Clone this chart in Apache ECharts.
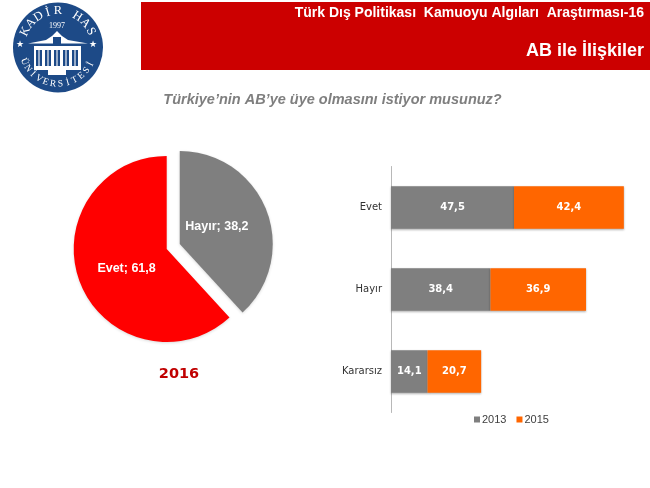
<!DOCTYPE html>
<html><head><meta charset="utf-8">
<style>html,body{margin:0;padding:0;background:#fff}#c{width:650px;height:488px}</style>
<script src="https://cdn.jsdelivr.net/npm/echarts@6/dist/echarts.min.js"></script>
</head><body><div id="c"></div>
<script>
const pieNames = ['Hayır','Evet'];
const pieValues = [38.2,61.8];
const pieColors = ['#7f7f7f','#ff0000'];
const categories = ['Evet','Hayır','Kararsız'];
const values2013 = [47.5,38.4,14.1];
const values2015 = [42.4,36.9,20.7];
const headerLine1 = 'Türk Dış Politikası  Kamuoyu Algıları  Araştırması-16';
const headerLine2 = 'AB ile İlişkiler';
const question = 'Türkiye’nin AB’ye üye olmasını istiyor musunuz?';
const pieYear = '2016';
const logoTop = 'KADİR HAS';
const logoBottom = 'ÜNİVERSİTESİ';
const logoYear = '1997';

const comma = v => String(v).replace('.',',');
const chart = echarts.init(document.getElementById('c'),null,{renderer:'canvas'});

// logo
const lx=58, ly=47.5, navy='#1d4a87';
function arcText(str,r,startDeg,stepDeg,size,flip){
  return str.split('').map((ch,i)=>{
    const a=(startDeg+i*stepDeg)*Math.PI/180;
    const x=lx+r*Math.sin(a), y=ly-r*Math.cos(a);
    return {type:'text',x:x,y:y,rotation:flip?Math.PI-a:-a,
      style:{text:ch,fill:'#fff',font:size+'px "Liberation Serif"',align:'center',verticalAlign:'middle'}};
  });
}
const logo=[
  {type:'circle',shape:{cx:lx,cy:ly,r:45},style:{fill:navy}},
  {type:'polygon',shape:{points:[[28,43.5],[46,40],[52,36],[57,31],[62,36],[68,40],[88,43.5]]},style:{fill:'#fff'}},
  {type:'rect',shape:{x:53,y:37,width:8,height:7},style:{fill:navy}},
  {type:'rect',shape:{x:34,y:46,width:47,height:24},style:{fill:'#fff'}},
  ...[36,45,54,63,72].map(x=>({type:'rect',shape:{x:x,y:50,width:6,height:16},style:{fill:navy}})),
  ...[38,47,56,65,74].map(x=>({type:'rect',shape:{x:x,y:50,width:2,height:16},style:{fill:'#fff',opacity:0.55}})),
  {type:'rect',shape:{x:48,y:70,width:18,height:5},style:{fill:'#fff'}},
  {type:'text',x:57,y:26,style:{text:logoYear,fill:'#fff',font:'8px "Liberation Serif"',align:'center',verticalAlign:'middle'}},
  {type:'text',x:20,y:44.5,style:{text:'★',fill:'#fff',font:'9px "DejaVu Sans"',align:'center',verticalAlign:'middle'}},
  {type:'text',x:93,y:44.5,style:{text:'★',fill:'#fff',font:'9px "DejaVu Sans"',align:'center',verticalAlign:'middle'}},
  ...arcText(logoTop,36.5,-64,16,12.5,false),
  ...arcText(logoBottom,36.5,247,-11.8,9.5,true)
];

chart.setOption({
  animation:false,
  backgroundColor:'#fff',
  legend:{left:469,top:409,itemGap:10,itemWidth:6,itemHeight:6,icon:'rect',selectedMode:false,
    data:['2013','2015'],
    textStyle:{fontFamily:'Liberation Sans',fontSize:11,color:'#404040',padding:[0,0,0,-3]}},
  grid:{left:391,top:166.5,width:259,height:246,containLabel:false},
  xAxis:{type:'value',min:0,max:100,show:false},
  yAxis:{type:'category',inverse:true,data:categories,
    axisLine:{lineStyle:{color:'#b8b8b8',width:1}},axisTick:{show:false},
    axisLabel:{fontFamily:'DejaVu Sans',fontSize:10,color:'#333',margin:9}},
  series:[
    {type:'pie',center:[166.7,249],radius:[0,93],startAngle:90,clockwise:true,
     selectedMode:'multiple',selectedOffset:14,silent:true,
     data:pieNames.map((n,i)=>({name:n,value:pieValues[i],selected:i===0,
       itemStyle:{color:pieColors[i],borderWidth:0,shadowColor:'rgba(0,0,0,0.15)',shadowBlur:3,shadowOffsetY:1},
       label:{offset:i===0?[-9,1]:[6,2]},
       select:{label:{offset:i===0?[-9,1]:[6,2]},itemStyle:{color:pieColors[i]}}})),
     label:{show:true,position:'inside',color:'#fff',fontFamily:'Liberation Sans',fontWeight:'bold',fontSize:12.5,
       formatter:p=>p.name+'; '+comma(p.value)},
     labelLine:{show:false}},
    {name:'2013',type:'bar',stack:'a',barWidth:42.5,data:values2013,
     itemStyle:{color:'#7f7f7f',shadowColor:'rgba(0,0,0,0.3)',shadowBlur:2,shadowOffsetY:1},
     label:{show:true,position:'inside',color:'#fff',fontFamily:'DejaVu Sans',fontWeight:'bold',fontSize:10,formatter:p=>comma(p.value)}},
    {name:'2015',type:'bar',stack:'a',barWidth:42.5,data:values2015,
     itemStyle:{color:'#ff6600',shadowColor:'rgba(0,0,0,0.3)',shadowBlur:2,shadowOffsetY:1},
     label:{show:true,position:'inside',color:'#fff',fontFamily:'DejaVu Sans',fontWeight:'bold',fontSize:10,formatter:p=>comma(p.value)}}
  ],
  color:['#7f7f7f','#ff6600'],
  graphic:[
    {type:'rect',z:-1,shape:{x:141,y:2,width:509,height:68},style:{fill:'#cc0000'}},
    {type:'text',x:644,y:13.5,style:{text:headerLine1,fill:'#fff',font:'bold 14px "Liberation Sans"',align:'right',verticalAlign:'middle'}},
    {type:'text',x:644,y:51.5,style:{text:headerLine2,fill:'#fff',font:'bold 18px "Liberation Sans"',align:'right',verticalAlign:'middle'}},
    {type:'text',x:332.5,y:100,style:{text:question,fill:'#7f7f7f',font:'italic bold 14.5px "Liberation Sans"',align:'center',verticalAlign:'middle'}},
    {type:'text',x:179,y:374.5,style:{text:pieYear,fill:'#c00000',font:'bold 14.5px "DejaVu Sans"',align:'center',verticalAlign:'middle'}},
    ...logo
  ]
});
</script></body></html>
